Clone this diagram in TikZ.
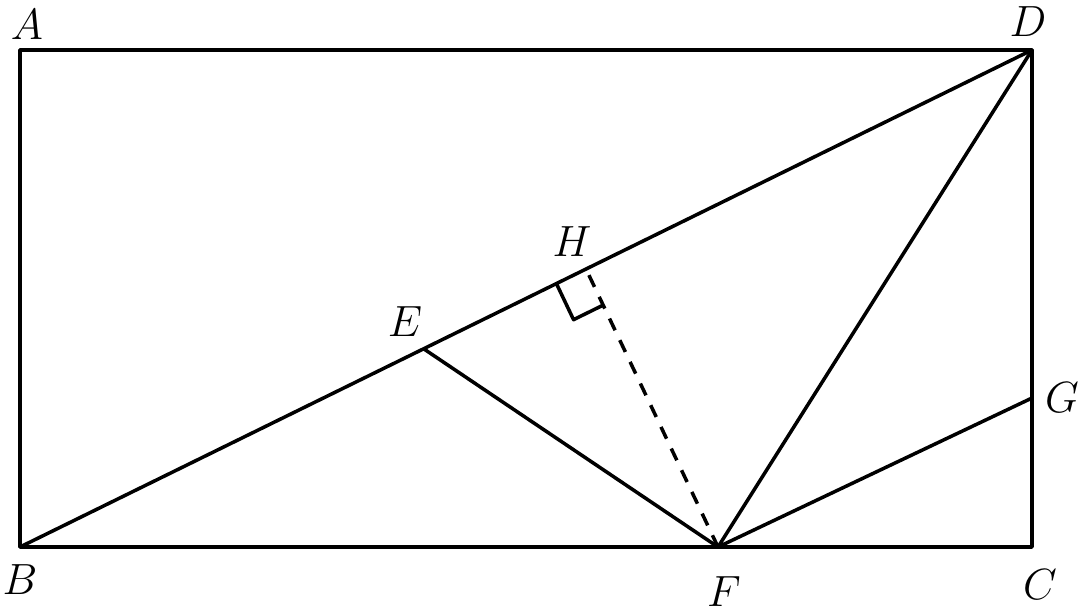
\documentclass[tikz,border=0pt]{standalone}
\usetikzlibrary{calc}
\begin{document}
\begin{tikzpicture}[x=0.02cm,y=-0.02cm,
  seg/.style={line width=2pt,line cap=round,line join=round},
  dsh/.style={line width=2pt,dash pattern=on 0.26cm off 0.22cm},
  lab/.style={font=\fontsize{23}{27}\selectfont\itshape, inner sep=0pt}]
\useasboundingbox (0,0) rectangle (1081,613);
\coordinate (A) at (20,50);
\coordinate (D) at (1032,50);
\coordinate (B) at (20,547);
\coordinate (C) at (1032,547);
\coordinate (E) at (424,349);
\coordinate (F) at (718,547);
\coordinate (G) at (1032,398);
\coordinate (H) at (586,269);
\coordinate (R1) at ($(H)!0.66cm!(B)$);
\coordinate (R3) at ($(H)!0.8cm!(F)$);
\coordinate (R2) at ($(R1)+(R3)-(H)$);
\draw[seg] (A) -- (D) -- (C) -- (B) -- cycle;
\draw[seg] (B) -- (D);
\draw[seg] (E) -- (F) -- (D);
\draw[seg] (F) -- (G);
\draw[dsh] (F) -- (H);
\draw[seg,line cap=butt] (R1) -- (R2) -- (R3);
\node[lab] (lA) at (27,25) {$A$};
\node[lab] (lD) at (1028,22) {$D$};
\node[lab] (lB) at (20,580) {$B$};
\node[lab] (lC) at (1040,585) {$C$};
\node[lab] (lE) at (405,322) {$E$};
\node[lab] (lH) at (572,242) {$H$};
\node[lab] (lF) at (724,592) {$F$};
\node[lab] (lG) at (1062,398) {$G$};
\end{tikzpicture}
\end{document}
